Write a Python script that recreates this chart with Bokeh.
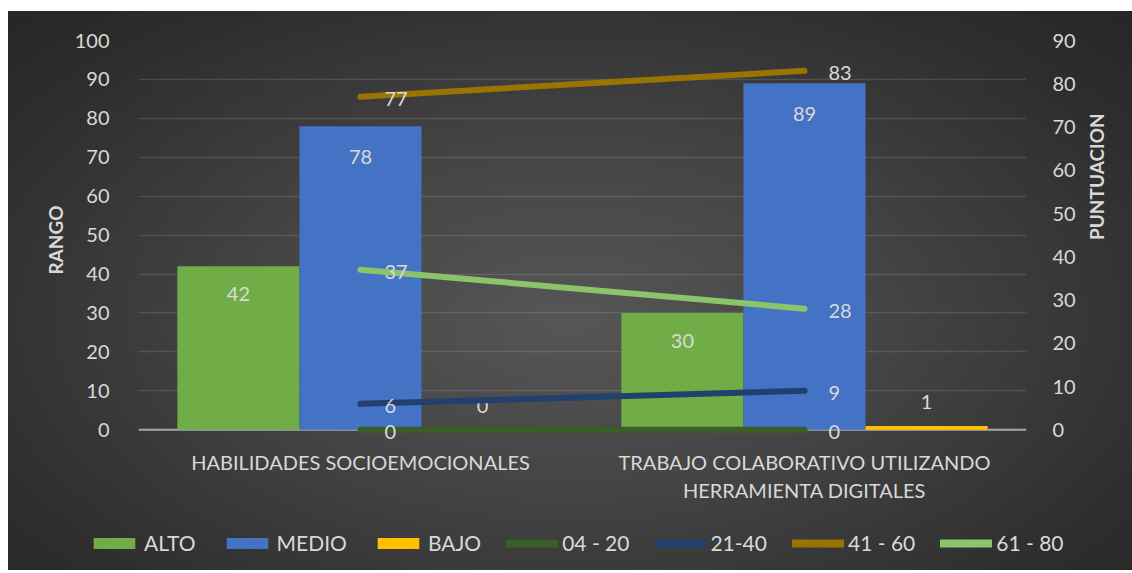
import math
from bokeh.plotting import figure
from bokeh.layouts import column
from bokeh.models import (FactorRange, Range1d, LinearAxis, ColumnDataSource, Legend,
                          LegendItem, SingleIntervalTicker, Span)
from bokeh.transform import dodge
from bokeh.core.properties import value
from bokeh.embed import file_html
from bokeh.resources import INLINE

# ---- data ----
categories = ["HABILIDADES SOCIOEMOCIONALES",
              "TRABAJO COLABORATIVO UTILIZANDO\nHERRAMIENTA DIGITALES"]
alto = [42, 30]
medio = [78, 89]
bajo = [0, 1]
r04_20 = [0, 0]
r21_40 = [6, 9]
r41_60 = [77, 83]
r61_80 = [37, 28]
series_names = ["ALTO", "MEDIO", "BAJO", "04 - 20", "21-40", "41 - 60", "61 - 80"]

FONT = "Lato"
TXT = "#d9d9d9"
C_ALTO, C_MEDIO, C_BAJO = "#70AD47", "#4472C4", "#FFC000"
line_specs = [("r04_20", "#3A5F26"), ("r21_40", "#22406E"),
              ("r41_60", "#9A7400"), ("r61_80", "#8BC46A")]

src = ColumnDataSource(dict(
    cat=categories,
    alto=alto, medio=medio, bajo=bajo,
    r04_20=r04_20, r21_40=r21_40, r41_60=r41_60, r61_80=r61_80,
    alto_l=[str(v) for v in alto], medio_l=[str(v) for v in medio], bajo_l=[str(v) for v in bajo],
    r04_20_l=[str(v) for v in r04_20], r21_40_l=[str(v) for v in r21_40],
    r41_60_l=[str(v) for v in r41_60], r61_80_l=[str(v) for v in r61_80],
))

# y ranges extended slightly below zero so the labels at 0 are not clipped
p = figure(x_range=FactorRange(*categories, range_padding=0),
           y_range=Range1d(-2.5, 100),
           width=1124, height=500,
           output_backend="svg", toolbar_location=None,
           min_border_left=130, min_border_right=106,
           min_border_top=29, min_border_bottom=72,
           border_fill_color=None, background_fill_color=None,
           outline_line_color=None)
p.frame_align = False

p.extra_y_ranges = {"pts": Range1d(-2.25, 90)}

# grid
p.xgrid.grid_line_color = None
p.ygrid.grid_line_color = "#ffffff"
p.ygrid.grid_line_alpha = 0.12
p.ygrid.grid_line_width = 1.5

# left axis
yl = p.yaxis[0]
yl.ticker = SingleIntervalTicker(interval=10)
yl.axis_label = "RANGO"
yl.axis_line_color = None
yl.major_tick_line_color = None
yl.minor_tick_line_color = None
yl.major_label_text_color = TXT
yl.major_label_text_font = FONT
yl.major_label_text_font_size = "20px"
yl.major_label_standoff = 23
yl.axis_label_text_color = TXT
yl.axis_label_text_font = FONT
yl.axis_label_text_font_size = "19px"
yl.axis_label_text_font_style = "bold"
yl.axis_label_standoff = 5
p.ygrid.ticker = yl.ticker

# right axis
yr = LinearAxis(y_range_name="pts", ticker=SingleIntervalTicker(interval=10),
                axis_label="PUNTUACION")
yr.axis_line_color = None
yr.major_tick_line_color = None
yr.minor_tick_line_color = None
yr.major_label_text_color = TXT
yr.major_label_text_font = FONT
yr.major_label_text_font_size = "20px"
yr.major_label_standoff = 20
yr.axis_label_text_color = TXT
yr.axis_label_text_font = FONT
yr.axis_label_text_font_size = "19px"
yr.axis_label_text_font_style = "bold"
yr.axis_label_standoff = 18
yr.axis_label_orientation = math.pi / 2
p.add_layout(yr, "right")

# x axis
xa = p.xaxis[0]
xa.axis_line_color = None
xa.major_tick_line_color = None
xa.minor_tick_line_color = None
xa.major_label_text_color = TXT
xa.major_label_text_font = FONT
xa.major_label_text_font_size = "20px"
xa.major_label_standoff = 4

zero = Span(location=0, dimension="width", line_color="#a6a6a6", line_width=2, level="underlay")
p.add_layout(zero)

# bars
W = 0.275
p.vbar(x=dodge("cat", -W, range=p.x_range), top="alto", bottom=0, width=W, source=src,
       fill_color=C_ALTO, line_color=None)
p.vbar(x=dodge("cat", 0, range=p.x_range), top="medio", bottom=0, width=W, source=src,
       fill_color=C_MEDIO, line_color=None)
p.vbar(x=dodge("cat", W, range=p.x_range), top="bajo", bottom=0, width=W, source=src,
       fill_color=C_BAJO, line_color=None)

lbl = dict(text_color=TXT, text_font=value(FONT), text_font_size="20px",
           text_align="center", text_baseline="middle", source=src)
p.text(x=dodge("cat", -W, range=p.x_range), y="alto", text="alto_l", y_offset=28, **lbl)
p.text(x=dodge("cat", 0, range=p.x_range), y="medio", text="medio_l", y_offset=31, **lbl)
p.text(x=dodge("cat", W, range=p.x_range), y="bajo", text="bajo_l", y_offset=-24, **lbl)

# lines (secondary axis)
for col, colr in line_specs:
    p.line(x="cat", y=col, source=src, y_range_name="pts", line_color=colr,
           line_width=6, line_cap="round")
llbl = dict(text_color=TXT, text_font=value(FONT), text_font_size="20px",
            text_align="left", text_baseline="middle", source=src, y_range_name="pts")
for col, _ in line_specs:
    p.text(x="cat", y=col, text=col + "_l", x_offset=24, y_offset=2, **llbl)

# ---- legend strip (separate figure; swatch renderers lie outside its visible range) ----
lg = figure(width=1124, height=59, output_backend="svg", toolbar_location=None,
            x_range=Range1d(0, 1), y_range=Range1d(0, 1),
            min_border=0, border_fill_color=None, background_fill_color=None,
            outline_line_color=None)
lg.frame_align = False
lg.axis.visible = False
lg.grid.visible = False
sw = [lg.vbar(x=[5], top=[1], width=0.1, fill_color=c, line_color=None)
      for c in (C_ALTO, C_MEDIO, C_BAJO)]
sw += [lg.line(x=[5, 6], y=[5, 5], line_color=c, line_width=8, line_cap="round")
       for _, c in line_specs]
legend = Legend(items=[LegendItem(label=n, renderers=[r]) for n, r in zip(series_names, sw)],
                orientation="horizontal", location=(80, 15))
legend.background_fill_alpha = 0
legend.border_line_alpha = 0
legend.label_text_color = TXT
legend.label_text_font = FONT
legend.label_text_font_size = "21px"
legend.glyph_width = 52
legend.glyph_height = 14
legend.label_standoff = 4
legend.spacing = 25
legend.padding = 0
legend.margin = 0
lg.add_layout(legend, "center")

layout = column(p, lg, spacing=0)
layout.margin = (11, 0, 0, 8)
layout.styles = {"background": "radial-gradient(ellipse at 50% 55%, #565656 0%, #444444 40%, #2e2e2e 80%, #262626 100%)"}

open("out.html", "w").write(file_html(layout, INLINE))
